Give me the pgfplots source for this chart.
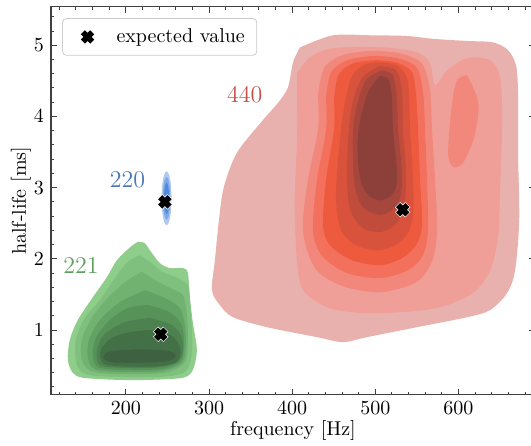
\documentclass[border=0pt]{standalone}
\usepackage{pgfplots}
\pgfplotsset{compat=1.18}
\pgfplotsset{legend image code/.code={\path (0pt,-1pt) rectangle (20pt,1pt);
    \draw[mark repeat=2, mark phase=2, #1] plot coordinates {(0pt,0pt) (8.5pt,0pt) (17pt,0pt)};}}
\definecolor{rA}{HTML}{E9B1AD}
\definecolor{rB}{HTML}{EF9F97}
\definecolor{rC}{HTML}{F2887B}
\definecolor{rD}{HTML}{F3715C}
\definecolor{rE}{HTML}{EE5A3D}
\definecolor{rF}{HTML}{D9533C}
\definecolor{rG}{HTML}{C24C3C}
\definecolor{rH}{HTML}{A6463D}
\definecolor{rI}{HTML}{8C4039}
\definecolor{gA}{HTML}{8FCD8B}
\definecolor{gB}{HTML}{80C07E}
\definecolor{gC}{HTML}{71B271}
\definecolor{gD}{HTML}{63A265}
\definecolor{gE}{HTML}{579259}
\definecolor{gF}{HTML}{4D814F}
\definecolor{gG}{HTML}{447047}
\definecolor{gH}{HTML}{3D6141}
\definecolor{bA}{HTML}{AFC9F0}
\definecolor{bB}{HTML}{7EA9E8}
\definecolor{bC}{HTML}{4F8BDD}
\definecolor{lblR}{HTML}{C44E4A}
\definecolor{lblB}{HTML}{4A78B5}
\definecolor{lblG}{HTML}{5E9E5E}
\begin{document}
\begin{tikzpicture}
\path[use as bounding box] (-25.5pt,-25.3pt) rectangle (240pt,197.4pt);
\begin{axis}[
  scale only axis,
  width=242pt, height=194pt,
  xmin=110, xmax=692, ymin=0.09, ymax=5.54,
  xtick={200,300,400,500,600},
  ytick={1,2,3,4,5},
  minor xtick={120,140,...,680},
  minor ytick={0.2,0.4,...,5.4},
  tick align=inside,
  xtick pos=both, ytick pos=both,
  major tick length=3pt, minor tick length=1.6pt,
  every tick/.style={black!75, line width=0.5pt},
  axis line style={black!75, line width=0.6pt},
  xlabel={frequency [Hz]},
  ylabel={half-life [ms]},
  xlabel style={at={(axis description cs:0.5,-0.092)}, anchor=center},
  ylabel style={at={(axis description cs:-0.062,0.5)}, anchor=center},
  legend cell align=left,
  legend style={at={(0.023,0.971)}, anchor=north west, draw=black!20,
    rounded corners=2pt, fill=white, inner xsep=4pt, inner ysep=3pt,
    column sep=1pt, font=\normalsize},
  every axis plot/.append style={draw=none},
]
% ---- 440 (red) ----
\addplot[fill=rA, smooth, forget plot] coordinates {(409.4,4.97) (449.1,5.14) (493.6,5.14) (538.2,5.13) (569.4,5.09) (610.4,5.06) (641.6,5.04) (659.7,4.93) (669.3,4.71) (671.7,4.30) (671.7,3.49) (673.0,2.54) (668.1,1.84) (658.5,1.52) (638.0,1.28) (610.4,1.18) (550.2,1.04) (490.0,0.90) (461.1,0.83) (429.8,0.90) (369.7,1.04) (328.8,1.18) (313.1,1.35) (303.5,1.56) (307.1,1.98) (311.9,2.54) (317.9,3.01) (333.6,3.49) (364.9,3.95) (382.9,4.19) (395.0,4.41) (401.0,4.76) (409.4,4.97)} --cycle;
\addplot[fill=rB, smooth, forget plot] coordinates {(405.8,4.61) (421.4,4.83) (449.1,4.96) (509.3,4.97) (550.2,4.90) (565.8,4.75) (571.8,4.44) (586.3,4.65) (610.4,4.82) (638.0,4.79) (650.1,4.55) (652.5,3.95) (650.1,3.01) (647.7,2.31) (638.0,1.84) (617.6,1.52) (577.9,1.32) (529.7,1.25) (481.6,1.24) (441.9,1.32) (413.0,1.56) (405.8,1.98) (403.0,2.78) (406.0,3.71) (406.0,4.27) (405.8,4.61)} --cycle;
\addplot[fill=rC, smooth, forget plot] coordinates {(610.4,4.58) (624.0,4.19) (619.0,3.71) (605.5,3.35) (593.5,3.29) (587.5,3.49) (592.3,4.19) (598.3,4.51) (610.4,4.58)} --cycle;
\addplot[fill=rC, smooth, forget plot] coordinates {(431.0,4.30) (438.3,4.68) (459.9,4.86) (496.0,4.92) (532.1,4.88) (556.2,4.74) (565.8,4.37) (568.2,3.81) (571.9,3.11) (574.3,2.40) (568.2,1.96) (549.0,1.67) (505.7,1.53) (459.9,1.62) (427.4,1.87) (413.0,2.40) (419.0,3.11) (431.0,3.81) (431.0,4.30)} --cycle;
\addplot[fill=rD, smooth, forget plot] coordinates {(440.7,4.27) (446.7,4.62) (466.0,4.79) (498.4,4.85) (529.7,4.81) (550.2,4.68) (557.4,4.34) (559.8,3.81) (562.2,3.11) (563.4,2.40) (557.4,2.05) (539.4,1.84) (505.7,1.73) (466.0,1.80) (435.9,2.04) (425.0,2.40) (429.8,3.11) (440.7,3.81) (440.7,4.27)} --cycle;
\addplot[fill=rE, smooth, forget plot] coordinates {(450.3,4.23) (455.1,4.57) (472.0,4.74) (500.9,4.79) (527.3,4.75) (544.2,4.62) (549.0,4.30) (551.4,3.81) (553.8,3.11) (556.2,2.47) (549.0,2.19) (532.1,2.01) (505.7,1.91) (472.0,1.98) (445.5,2.19) (437.1,2.47) (440.7,3.11) (450.3,3.81) (450.3,4.23)} --cycle;
\addplot[fill=rF, smooth, forget plot] coordinates {(459.9,3.95) (469.6,4.51) (484.0,4.71) (503.3,4.76) (527.3,4.71) (539.4,4.48) (541.8,3.81) (545.4,3.11) (545.4,2.61) (537.0,2.32) (520.1,2.17) (500.9,2.12) (476.8,2.19) (458.7,2.40) (452.7,2.83) (455.1,3.39) (459.9,3.95)} --cycle;
\addplot[fill=rG, smooth, forget plot] coordinates {(505.7,4.71) (524.9,4.65) (532.1,4.37) (533.3,3.81) (536.9,3.25) (535.7,2.83) (527.3,2.52) (508.1,2.38) (485.2,2.43) (469.6,2.69) (466.0,3.11) (467.2,3.67) (472.0,4.16) (484.0,4.54) (505.7,4.71)} --cycle;
\addplot[fill=rH, smooth, forget plot] coordinates {(506.9,4.64) (521.3,4.58) (526.1,4.23) (527.3,3.81) (530.9,3.39) (532.1,3.04) (526.1,2.76) (508.1,2.62) (486.4,2.71) (475.6,2.99) (473.2,3.39) (473.2,3.81) (478.0,4.16) (488.8,4.51) (506.9,4.64)} --cycle;
\addplot[fill=rI, smooth, forget plot] coordinates {(505.7,4.57) (516.5,4.51) (520.1,4.23) (521.3,3.81) (524.9,3.39) (526.1,3.08) (520.1,2.90) (505.7,2.82) (491.2,2.90) (482.8,3.08) (479.2,3.39) (479.2,3.74) (484.0,4.06) (492.4,4.37) (505.7,4.57)} --cycle;
% ---- 221 (green) ----
\addplot[fill=gA, smooth, forget plot] coordinates {(214.4,2.24) (222.9,2.22) (228.9,2.12) (240.9,1.94) (252.9,1.87) (268.6,1.87) (274.6,1.80) (277.0,1.46) (280.6,1.10) (285.4,0.72) (280.6,0.44) (268.6,0.33) (228.9,0.30) (189.2,0.30) (148.3,0.33) (136.2,0.40) (130.2,0.58) (132.6,0.86) (142.2,1.14) (160.3,1.46) (177.1,1.74) (189.2,1.98) (205.0,2.16) (214.4,2.24)} --cycle;
\addplot[fill=gB, smooth, forget plot] coordinates {(216.8,2.05) (228.9,1.96) (243.3,1.82) (262.6,1.73) (274.6,1.63) (277.0,1.42) (279.4,1.00) (279.4,0.65) (271.0,0.41) (240.9,0.34) (192.8,0.34) (154.3,0.37) (141.0,0.51) (139.8,0.86) (150.7,1.17) (168.7,1.42) (186.8,1.73) (202.4,1.96) (216.8,2.05)} --cycle;
\addplot[fill=gC, smooth, forget plot] coordinates {(219.3,1.82) (234.9,1.70) (252.9,1.59) (268.6,1.49) (273.4,1.21) (274.6,0.86) (271.0,0.55) (246.9,0.40) (192.8,0.38) (159.1,0.42) (147.0,0.58) (147.0,0.86) (159.1,1.17) (178.3,1.45) (198.8,1.67) (219.3,1.82)} --cycle;
\addplot[fill=gD, smooth, forget plot] coordinates {(222.9,1.56) (246.9,1.45) (265.0,1.31) (271.0,1.07) (272.2,0.79) (267.4,0.54) (240.9,0.42) (192.8,0.41) (162.7,0.45) (154.3,0.61) (155.5,0.86) (168.7,1.14) (192.8,1.39) (222.9,1.56)} --cycle;
\addplot[fill=gE, smooth, forget plot] coordinates {(226.5,1.35) (252.9,1.25) (267.4,1.07) (269.8,0.79) (265.0,0.55) (240.9,0.45) (192.8,0.44) (166.3,0.48) (160.3,0.65) (163.9,0.89) (180.7,1.14) (202.4,1.31) (226.5,1.35)} --cycle;
\addplot[fill=gF, smooth, forget plot] coordinates {(228.9,1.17) (255.4,1.07) (267.4,0.89) (266.2,0.61) (240.9,0.48) (192.8,0.47) (168.7,0.51) (165.1,0.69) (173.5,0.93) (198.8,1.11) (228.9,1.17)} --cycle;
\addplot[fill=gG, smooth, forget plot] coordinates {(228.9,1.00) (255.4,0.92) (265.0,0.75) (262.6,0.56) (240.9,0.49) (192.8,0.49) (172.3,0.54) (169.9,0.72) (183.2,0.89) (204.8,0.97) (228.9,1.00)} --cycle;
\addplot[fill=gH, smooth, forget plot] coordinates {(216.8,0.73) (250.0,0.71) (260.0,0.64) (250.0,0.56) (216.8,0.54) (182.0,0.55) (173.0,0.62) (182.0,0.70) (216.8,0.73)} --cycle;
% ---- 220 (blue) ----
\addplot[fill=bA, smooth, forget plot] coordinates {(255,2.85) (254.2,3.04) (252,3.18) (249,3.23) (246,3.18) (243.8,3.04) (243,2.85) (243.8,2.66) (246,2.52) (249,2.47) (252,2.52) (254.2,2.66) (255,2.85)} --cycle;
\addplot[fill=bB, smooth, forget plot] coordinates {(253.5,2.85) (252.9,3.00) (251.3,3.11) (249,3.15) (246.7,3.11) (245.1,3.00) (244.5,2.85) (245.1,2.70) (246.7,2.59) (249,2.55) (251.3,2.59) (252.9,2.70) (253.5,2.85)} --cycle;
\addplot[fill=bC, smooth, forget plot] coordinates {(252,2.85) (251.6,2.96) (250.5,3.04) (249,3.07) (247.5,3.04) (246.4,2.96) (246,2.85) (246.4,2.74) (247.5,2.66) (249,2.63) (250.5,2.66) (251.6,2.74) (252,2.85)} --cycle;
% ---- expected values ----
\addplot[only marks, mark=x, mark size=3.6pt, mark options={draw=white, line width=3.6pt}, forget plot] coordinates {(533,2.69) (242,0.94) (247,2.80)};
\addplot[only marks, mark=x, mark size=3.3pt, mark options={draw=black, line width=2.9pt}]
  coordinates {(533,2.69) (242,0.94) (247,2.80)};
\addlegendentry{expected value}
\node[text=lblR, font=\large] at (axis cs:343,4.30) {440};
\node[text=lblB, font=\large] at (axis cs:202,3.11) {220};
\node[text=lblG, font=\large] at (axis cs:146,1.91) {221};
\end{axis}
\end{tikzpicture}
\end{document}
